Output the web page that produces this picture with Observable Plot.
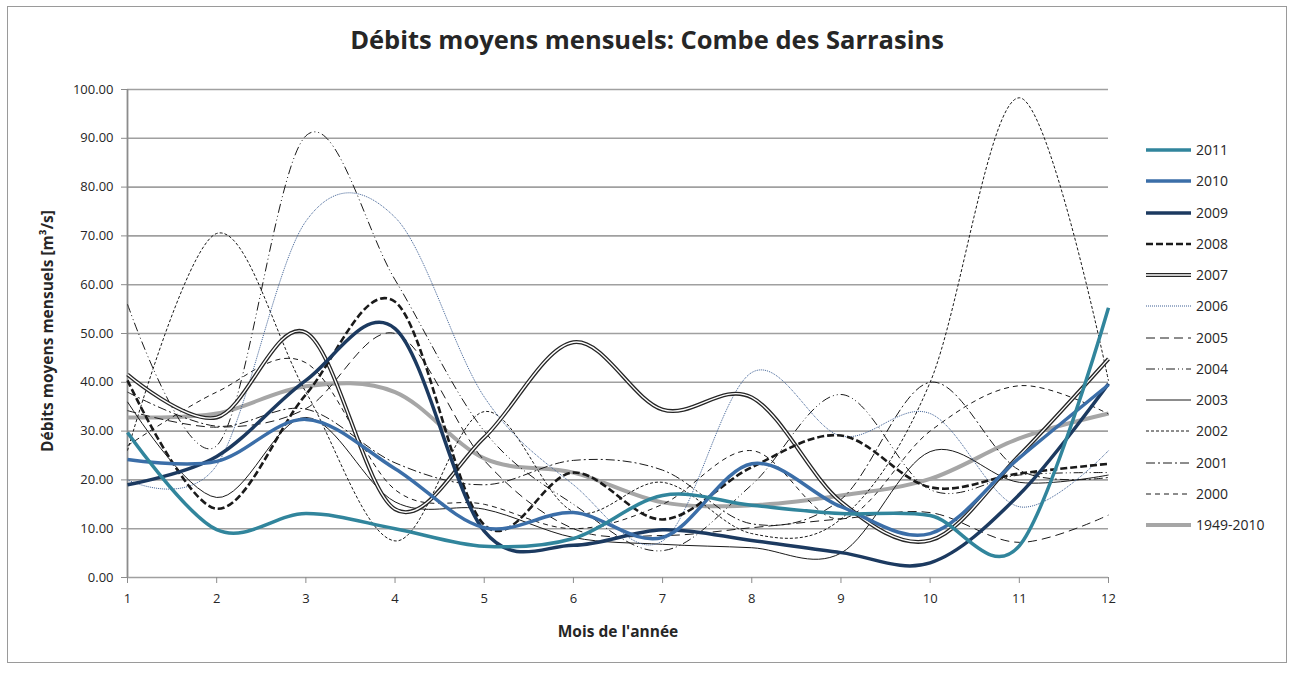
<!DOCTYPE html>
<html><head><meta charset="utf-8">
<script src="https://cdn.jsdelivr.net/npm/d3@7"></script>
<script src="https://cdn.jsdelivr.net/npm/@observablehq/plot@0.6"></script>
<style>
body{margin:0;background:#fff;font-family:"Open Sans",sans-serif;color:#262626;}
#wrap{position:relative;width:1294px;height:674px;overflow:hidden;}
#frame{position:absolute;left:7px;top:6px;width:1280px;height:657px;border:1px solid #9a9a9a;box-sizing:border-box;}
#chart{position:absolute;left:0;top:0;}
.lbl{position:absolute;white-space:nowrap;font-weight:700;}
#title{left:0;width:1294px;text-align:center;top:22px;font-size:25.5px;line-height:34px;}
#ylab{left:47px;top:331px;font-size:15.5px;line-height:18px;transform:translate(-50%,-50%) rotate(-90deg);}
#xlab{left:618px;top:631px;font-size:15.5px;line-height:18px;transform:translate(-50%,-50%);}
#legend{position:absolute;left:1146px;top:0;}
.li{position:absolute;left:0;height:20px;width:140px;}
.li svg{position:absolute;left:0;top:5px;}
.li span{position:absolute;left:50px;top:0;font-size:14px;line-height:20px;}
</style>
</head><body>
<div id="wrap">
  <div id="frame"></div>
  <div id="chart"></div>
  <div id="title" class="lbl">Débits moyens mensuels: Combe des Sarrasins</div>
  <div id="ylab" class="lbl">Débits moyens mensuels [m³/s]</div>
  <div id="xlab" class="lbl">Mois de l'année</div>
  <div id="legend"></div>
</div>
<script>
const months = [1,2,3,4,5,6,7,8,9,10,11,12];
const yTicks = [0,10,20,30,40,50,60,70,80,90,100];

const s2011 = [29.7, 9.8, 13.1, 10.0, 6.4, 8.0, 16.8, 14.8, 13.1, 12.7, 6.5, 55.3];
const s2010 = [24.2, 23.8, 32.4, 22.3, 10.2, 13.3, 8.2, 23.3, 14.5, 9.0, 24.5, 39.5];
const s2009 = [19.0, 24.8, 40.4, 51.0, 9.5, 6.6, 9.8, 7.6, 5.1, 3.0, 17.0, 39.7];
const s2008 = [40.4, 14.1, 37.5, 56.5, 10.8, 21.5, 11.9, 22.6, 29.1, 18.5, 21.3, 23.3];
const s2007 = [41.6, 32.8, 50.2, 14.0, 28.7, 48.2, 34.4, 36.9, 15.5, 7.6, 25.0, 44.8];
const s2006 = [20.0, 23.0, 73.0, 73.8, 37.0, 19.0, 7.5, 42.0, 29.0, 33.6, 14.5, 26.0];
const s2005 = [34.2, 30.8, 34.6, 50.0, 24.0, 10.0, 8.6, 10.2, 12.0, 13.3, 7.2, 12.8];
const s2004 = [56.0, 27.0, 90.5, 61.0, 30.0, 15.0, 5.5, 19.0, 37.5, 18.0, 21.0, 21.5];
const s2003 = [36.0, 16.4, 32.8, 15.5, 14.0, 8.2, 6.8, 6.1, 5.0, 25.8, 19.5, 21.0];
const s2002 = [26.0, 70.5, 38.0, 7.5, 34.0, 13.5, 19.5, 9.0, 12.0, 40.0, 98.3, 40.3];
const s2001 = [38.0, 31.0, 34.5, 23.5, 19.0, 24.0, 22.0, 11.0, 16.0, 40.0, 22.0, 20.5];
const s2000 = [27.0, 38.0, 44.0, 18.0, 15.0, 10.0, 15.0, 26.0, 12.0, 30.0, 39.3, 33.5];
const sMean = [32.8, 33.6, 39.2, 38.0, 24.4, 21.5, 15.4, 14.8, 16.8, 20.2, 28.5, 33.6];

const seriesNames = ["2011","2010","2009","2008","2007","2006","2005","2004","2003","2002","2001","2000","1949-2010"];
const seriesValues = [s2011,s2010,s2009,s2008,s2007,s2006,s2005,s2004,s2003,s2002,s2001,s2000,sMean];
const styles = [
  [{stroke:"#31859c", width:3.5}],
  [{stroke:"#3b6ea8", width:3.5}],
  [{stroke:"#1c3a60", width:3.5}],
  [{stroke:"#1a1a1a", width:2.6, dash:"7,3"}],
  [{stroke:"#262626", width:4}, {stroke:"#ffffff", width:1.4}],
  [{stroke:"#3d5f94", width:1, dash:"1,1"}],
  [{stroke:"#1a1a1a", width:1, dash:"9,5"}],
  [{stroke:"#1a1a1a", width:1, dash:"9,3,1,3,1,3"}],
  [{stroke:"#1a1a1a", width:1}],
  [{stroke:"#1a1a1a", width:1, dash:"3,2"}],
  [{stroke:"#1a1a1a", width:1, dash:"9,3,2,3"}],
  [{stroke:"#1a1a1a", width:1, dash:"5,4"}],
  [{stroke:"#a6a6a6", width:4}]
];

const lineMarks = [];
for (let k = seriesNames.length - 1; k >= 0; k--) {
  const data = months.map((m, i) => ({month: m, value: seriesValues[k][i], series: seriesNames[k]}));
  for (const st of styles[k]) {
    lineMarks.push(Plot.line(data, {
      x: "month", y: "value", curve: "cardinal", tension: 0,
      stroke: st.stroke, strokeWidth: st.width,
      strokeDasharray: st.dash || null, strokeLinecap: "butt", strokeLinejoin: "round"
    }));
  }
}

const chart = Plot.plot({
  width: 1294, height: 674,
  marginLeft: 127, marginRight: 186, marginTop: 89, marginBottom: 97,
  x: {domain: [1, 12]},
  y: {domain: [0, 100]},
  style: {fontFamily: "Open Sans, sans-serif", fontSize: "13px", color: "#262626", background: "transparent", overflow: "visible"},
  marks: [
    Plot.ruleY(yTicks, {stroke: "#a0a0a0", strokeWidth: 1.6}),
    Plot.ruleX([1], {stroke: "#8c8c8c", strokeWidth: 1.8}),
    Plot.axisY({ticks: yTicks, tickFormat: d => d.toFixed(2), tickSize: 6, tickPadding: 8, stroke: "#8c8c8c", strokeOpacity: 1, label: null}),
    Plot.axisX({ticks: months, tickFormat: d => String(d), tickSize: 6, tickPadding: 10, stroke: "#8c8c8c", strokeOpacity: 1, label: null}),
    ...lineMarks
  ]
});
document.getElementById("chart").appendChild(chart);

// legend
const leg = document.getElementById("legend");
seriesNames.forEach((name, k) => {
  const cy = 150 + k * 31.25;
  const item = document.createElement("div");
  item.className = "li";
  item.style.top = (cy - 10) + "px";
  const svg = d3.create("svg").attr("width", 46).attr("height", 10);
  styles[k].forEach(st => {
    svg.append("line").attr("x1", 0).attr("x2", 45).attr("y1", 5).attr("y2", 5)
      .attr("stroke", st.stroke).attr("stroke-width", st.width)
      .attr("stroke-dasharray", st.dash || null);
  });
  item.appendChild(svg.node());
  const sp = document.createElement("span");
  sp.textContent = name;
  item.appendChild(sp);
  leg.appendChild(item);
});
</script>
</body></html>
